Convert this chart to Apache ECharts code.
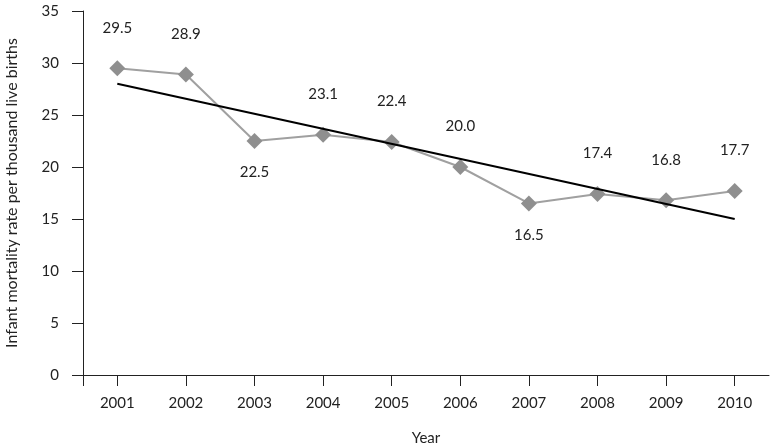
<!DOCTYPE html>
<html>
<head>
<meta charset="utf-8">
<script src="https://cdn.jsdelivr.net/npm/echarts@6/dist/echarts.min.js"></script>
<style>
html,body{margin:0;padding:0;background:#fff;}
#chart{width:771px;height:444px;}
</style>
</head>
<body>
<div id="chart"></div>
<script>
var years = ['2001','2002','2003','2004','2005','2006','2007','2008','2009','2010'];
var rates = [29.5, 28.9, 22.5, 23.1, 22.4, 20.0, 16.5, 17.4, 16.8, 17.7];
var labelBelow = ['2003', '2007'];
var trendStart = 28.0;
var trendEnd = 15.0;
var yTicks = [0, 5, 10, 15, 20, 25, 30, 35];

var FONT = 'Lato';
var trendData = years.map(function (y, i) {
  if (i === 0) return trendStart;
  if (i === years.length - 1) return trendEnd;
  return null;
});

var chart = echarts.init(document.getElementById('chart'), null, {renderer: 'canvas'});
chart.setOption({
  animation: false,
  backgroundColor: '#fff',
  grid: {left: 83, right: 2, top: 11, bottom: 69, containLabel: false, outerBoundsMode: 'none'},
  xAxis: [{
    type: 'category',
    data: years,
    boundaryGap: true,
    name: 'Year',
    nameLocation: 'middle',
    nameGap: 56,
    nameTextStyle: {fontFamily: FONT, fontSize: 15, color: '#222'},
    axisLine: {lineStyle: {color: '#222', width: 1}},
    axisTick: {show: true, alignWithLabel: true, length: 11, lineStyle: {color: '#222'}},
    axisLabel: {fontFamily: FONT, fontSize: 15, color: '#222', margin: 21},
    splitLine: {show: false}
  }, {
    type: 'value',
    min: 0,
    max: 1,
    position: 'bottom',
    axisLine: {show: false},
    axisLabel: {show: false},
    splitLine: {show: false},
    axisTick: {show: true, length: 11, customValues: [0], lineStyle: {color: '#222'}}
  }],
  yAxis: {
    type: 'value',
    min: yTicks[0],
    max: yTicks[yTicks.length - 1],
    interval: 5,
    name: 'Infant mortality rate per thousand live births',
    nameLocation: 'middle',
    nameGap: 63,
    nameRotate: 90,
    nameTextStyle: {fontFamily: FONT, fontSize: 16, color: '#222'},
    axisLine: {show: true, lineStyle: {color: '#222', width: 1}},
    axisTick: {show: true, length: 11, lineStyle: {color: '#222'}},
    axisLabel: {fontFamily: FONT, fontSize: 15, color: '#222', margin: 24},
    splitLine: {show: false}
  },
  series: [{
    type: 'line',
    data: rates.map(function (v, i) {
      var below = labelBelow.indexOf(years[i]) >= 0;
      return {
        value: v,
        label: below ? {position: 'bottom', distance: 16} : {position: 'top', distance: 25}
      };
    }),
    symbol: 'diamond',
    symbolSize: 16,
    lineStyle: {color: '#a0a0a0', width: 2},
    itemStyle: {color: '#8f8f8f'},
    label: {
      show: true,
      fontFamily: FONT,
      fontSize: 15,
      color: '#222',
      formatter: function (p) { return p.value.toFixed(1); }
    },
    z: 2
  }, {
    type: 'line',
    data: trendData,
    connectNulls: true,
    symbol: 'none',
    lineStyle: {color: '#000', width: 2},
    z: 3
  }]
});
</script>
</body>
</html>
